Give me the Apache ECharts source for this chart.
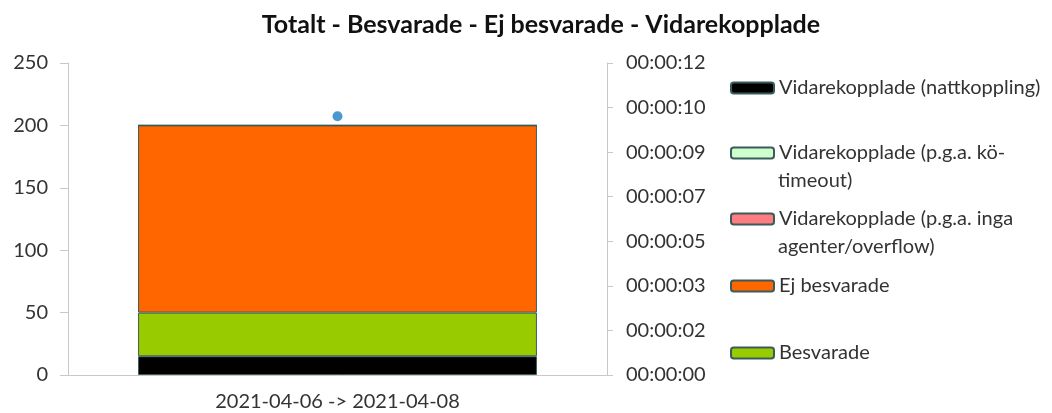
<!DOCTYPE html>
<html><head><meta charset="utf-8">
<script src="https://cdn.jsdelivr.net/npm/echarts@6/dist/echarts.min.js"></script>
<style>html,body{margin:0;padding:0;background:#fff}#c{width:1052px;height:413px}</style>
</head><body><div id="c"></div>
<script>
const categories = ['2021-04-06 -> 2021-04-08'];
const nattkoppling = [15];
const besvarade = [35];
const ejBesvarade = [150];
const koTimeout = [0];
const ingaAgenter = [0];
const avgTimeSeconds = [9.95];
const leftTicks = [0, 50, 100, 150, 200, 250];

const FONT = 'Lato';
const TXT = '#333333';
const names = {
  natt: 'Vidarekopplade (nattkoppling)',
  ko: 'Vidarekopplade (p.g.a. kö-timeout)',
  inga: 'Vidarekopplade (p.g.a. inga agenter/overflow)',
  ej: 'Ej besvarade',
  bes: 'Besvarade'
};
// legend text split over two lines as in the original
const firstLine = {};
firstLine[names.ko] = 'Vidarekopplade (p.g.a. kö-';
firstLine[names.inga] = 'Vidarekopplade (p.g.a. inga';
const secondLine = {};
secondLine[names.ko] = 'timeout)';
secondLine[names.inga] = 'agenter/overflow)';

const border = '#3b5b5b';
function bar(name, data, color) {
  return {name, type: 'bar', stack: 's', data, barWidth: '74%',
    itemStyle: {color, borderColor: border, borderWidth: 1}};
}
function leg(name, center) {
  return {data: [name], left: 730, top: center - 12, orient: 'vertical', padding: 0,
    itemWidth: 43, itemHeight: 11, itemGap: 0, selectedMode: false,
    formatter: n => firstLine[n] || n,
    textStyle: {fontFamily: FONT, fontSize: 20, color: TXT, lineHeight: 24}};
}
function cont(name, y) {
  return {type: 'text', left: 778, top: y - 12,
    style: {text: secondLine[name], fontFamily: FONT, fontSize: 20, fill: TXT, lineHeight: 24}};
}
const chart = echarts.init(document.getElementById('c'));
chart.setOption({
  animation: false,
  title: {text: 'Totalt - Besvarade - Ej besvarade - Vidarekopplade', left: 536, textAlign: 'center', top: 7,
    textStyle: {fontFamily: FONT, fontWeight: 'bold', fontSize: 25, color: '#111111'}},
  grid: {left: 68, right: 445, top: 63, bottom: 38},
  legend: [leg(names.natt, 88), leg(names.ko, 153), leg(names.inga, 219), leg(names.ej, 286), leg(names.bes, 353)],
  graphic: [cont(names.ko, 181), cont(names.inga, 247)],
  xAxis: {type: 'category', data: categories,
    axisLine: {lineStyle: {color: '#c8c8c8'}}, axisTick: {show: false},
    axisLabel: {fontFamily: FONT, fontSize: 20, color: TXT, margin: 17}},
  yAxis: [
    {type: 'value', min: leftTicks[0], max: leftTicks[leftTicks.length - 1], interval: 50,
      axisLine: {show: true, lineStyle: {color: '#c8c8c8'}}, axisTick: {show: true, length: 8},
      splitLine: {show: false},
      axisLabel: {fontFamily: FONT, fontSize: 20, color: TXT, margin: 20}},
    {type: 'value', min: 0, max: 12, interval: 12 / 7, position: 'right',
      axisLine: {show: true, lineStyle: {color: '#c8c8c8'}}, axisTick: {show: true, length: 6},
      splitLine: {show: false},
      axisLabel: {fontFamily: FONT, fontSize: 20, color: TXT, margin: 19,
        formatter: v => '00:00:' + String(Math.round(v)).padStart(2, '0')}}
  ],
  series: [
    bar(names.natt, nattkoppling, '#000000'),
    bar(names.bes, besvarade, '#99cc00'),
    bar(names.ej, ejBesvarade, '#ff6600'),
    bar(names.ko, koTimeout, '#ccffcc'),
    bar(names.inga, ingaAgenter, '#ff7c80'),
    {name: 'Snitt', type: 'scatter', yAxisIndex: 1, data: avgTimeSeconds, symbolSize: 10,
      itemStyle: {color: '#1a80c4'}, z: 5}
  ]
});
</script></body></html>
